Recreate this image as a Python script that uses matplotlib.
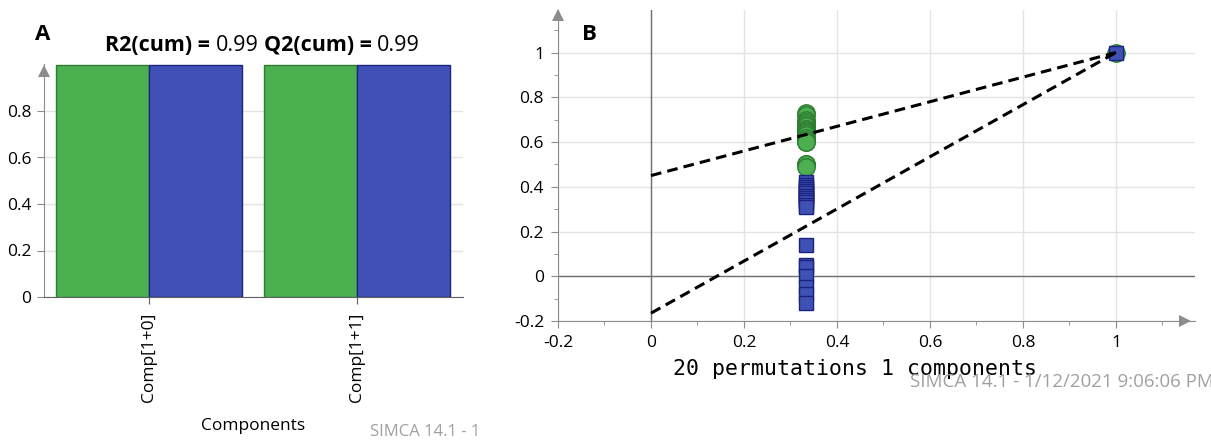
"""SIMCA model overview (A) and permutation test (B)"""

import numpy as np
import matplotlib
matplotlib.use('Agg')
import matplotlib.pyplot as plt

OUT_FN = 'out.png'

## DATA ##
components = ['Comp[1+0]', 'Comp[1+1]']
r2_cum = [0.998, 0.998]
q2_cum = [0.997, 0.998]

# permutation test: correlation of permuted y vs original y
perm_corr = [0.333, 0.333, 0.333, 0.333, 0.333, 0.333, 0.333, 0.333, 0.333, 0.333,
             0.333, 0.333, 0.333, 0.333, 0.333, 0.333, 0.333, 0.333, 0.333, 0.333]
r2_perm = [0.73, 0.72, 0.70, 0.69, 0.68, 0.67, 0.66, 0.66, 0.65, 0.65,
           0.64, 0.64, 0.63, 0.62, 0.61, 0.60, 0.60, 0.50, 0.50, 0.49]
q2_perm = [0.42, 0.41, 0.40, 0.39, 0.38, 0.37, 0.36, 0.36, 0.35, 0.34,
           0.33, 0.32, 0.31, 0.14, 0.05, 0.04, 0.00, -0.05, -0.08, -0.12]
orig_corr = [1.0]
r2_orig = [1.0]
q2_orig = [1.0]
r2_line_x = [0.0, 1.0]
r2_line_y = [0.45, 1.0]
q2_line_x = [0.0, 1.0]
q2_line_y = [-0.165, 1.0]

## STYLE ##
GREEN = '#4caf50'
GREEN_EDGE = '#2e7d32'
BLUE = '#3f51b5'
BLUE_EDGE = '#1a237e'
GRID = '#e3e3e3'
AXIS = '#8c8c8c'
FONT = 'Open Sans'

plt.rcParams['font.family'] = [FONT, 'DejaVu Sans']
plt.rcParams['font.size'] = 12

W, H = 1211, 442
fig = plt.figure(figsize=(W / 100, H / 100), dpi=100)


def arrow(ax, x, y, marker):
    ax.plot(x, y, marker=marker, transform=ax.transAxes, clip_on=False,
            color=AXIS, markersize=9, markeredgewidth=0, zorder=5)


## Panel A: bars ##
axA = fig.add_axes([44 / W, 145 / H, 419 / W, 232.5 / H])
x = np.arange(len(components))
w = 0.447
axA.bar(x - w / 2, r2_cum, w, color=GREEN, edgecolor=GREEN_EDGE, linewidth=1, zorder=3)
axA.bar(x + w / 2, q2_cum, w, color=BLUE, edgecolor=BLUE_EDGE, linewidth=1, zorder=3)
axA.set_xlim(-0.505, 1.51)
axA.set_ylim(0, 1.0)
axA.set_yticks([0, 0.2, 0.4, 0.6, 0.8])
axA.set_yticklabels(['0', '0.2', '0.4', '0.6', '0.8'])
axA.set_xticks(x)
axA.set_xticklabels(components, rotation=90)
axA.grid(axis='y', color=GRID, linewidth=1, zorder=0)
axA.set_axisbelow(True)
for s in ['top', 'right']:
    axA.spines[s].set_visible(False)
axA.spines['left'].set_color(AXIS)
axA.spines['bottom'].set_color('#606060')
axA.tick_params(axis='y', length=5, color=AXIS, pad=4, labelsize=12.5)
axA.tick_params(axis='x', length=5, color='#606060', pad=6, labelsize=12.5)
axA.set_xlabel('Components', fontsize=12.5, labelpad=12)
arrow(axA, 0, 0.97, '^')

# title with bold/normal parts
t1 = fig.text(105 / W, 1 - 56 / H, 'R2(cum) =', fontsize=15.5, weight='bold', va='bottom')
t2 = axA.annotate('0.99', xy=(1, 0), xycoords=t1, xytext=(4, 0), textcoords='offset points',
                  fontsize=15.5, va='bottom')
t3 = axA.annotate('Q2(cum) =', xy=(1, 0), xycoords=t2, xytext=(4, 0), textcoords='offset points',
                  fontsize=15.5, weight='bold', va='bottom')
axA.annotate('0.99', xy=(1, 0), xycoords=t3, xytext=(4, 0), textcoords='offset points',
             fontsize=15.5, va='bottom')
fig.text(43 / W, 1 - 35 / H, 'A', fontsize=16, weight='bold', ha='center', va='center')
fig.text(370 / W, 1 - 432 / H, 'SIMCA 14.1 - 1', fontsize=12, color='#a0a0a0', va='center')

## Panel B: permutations ##
axB = fig.add_axes([558 / W, 121 / H, 637 / W, 311 / H])
axB.plot(perm_corr, r2_perm, 'o', color=GREEN, markeredgecolor=GREEN_EDGE,
         markersize=12.5, markeredgewidth=1, zorder=3)
axB.plot(orig_corr, r2_orig, 'o', color=GREEN, markeredgecolor=GREEN_EDGE,
         markersize=12.5, markeredgewidth=1, zorder=3)
axB.plot(perm_corr, q2_perm, 's', color=BLUE, markeredgecolor=BLUE_EDGE,
         markersize=10.5, markeredgewidth=1, zorder=4)
axB.plot(orig_corr, q2_orig, 's', color=BLUE, markeredgecolor=BLUE_EDGE,
         markersize=10.5, markeredgewidth=1, zorder=4)
axB.plot(r2_line_x, r2_line_y, '--', color='black', linewidth=2.2, dashes=(3.5, 2), zorder=5)
axB.plot(q2_line_x, q2_line_y, '--', color='black', linewidth=2.2, dashes=(3.5, 2), zorder=5)

axB.set_xlim(-0.2, 1.17)
axB.set_ylim(-0.2, 1.19)
axB.set_xticks([-0.2, 0, 0.2, 0.4, 0.6, 0.8, 1])
axB.set_xticklabels(['-0.2', '0', '0.2', '0.4', '0.6', '0.8', '1'])
axB.set_yticks([-0.2, 0, 0.2, 0.4, 0.6, 0.8, 1])
axB.set_yticklabels(['-0.2', '0', '0.2', '0.4', '0.6', '0.8', '1'])
axB.set_xticks(np.arange(-0.2, 1.15, 0.1), minor=True)
axB.set_yticks(np.arange(-0.2, 1.15, 0.1), minor=True)
axB.grid(which='major', color=GRID, linewidth=1, zorder=0)
axB.set_axisbelow(True)
axB.axhline(0, color='#707070', linewidth=1, zorder=1)
axB.axvline(0, color='#707070', linewidth=1, zorder=1)
for s in ['top', 'right']:
    axB.spines[s].set_visible(False)
for s in ['left', 'bottom']:
    axB.spines[s].set_color(AXIS)
axB.tick_params(which='major', length=5, color=AXIS, pad=5, labelsize=12.5)
axB.tick_params(which='minor', length=3, color=AXIS)
arrow(axB, 0, 0.985, '^')
arrow(axB, 0.985, 0, '>')

fig.text(855 / W, 1 - 369 / H, '20 permutations 1 components', family='DejaVu Sans Mono',
         fontsize=15.5, ha='center', va='center')
fig.text(910 / W, 1 - 382 / H, 'SIMCA 14.1 - 1/12/2021 9:06:06 PM', fontsize=13.5,
         color='#a0a0a0', va='center')
fig.text(589 / W, 1 - 35 / H, 'B', fontsize=16, weight='bold', ha='center', va='center')

plt.savefig(OUT_FN, dpi=100)
